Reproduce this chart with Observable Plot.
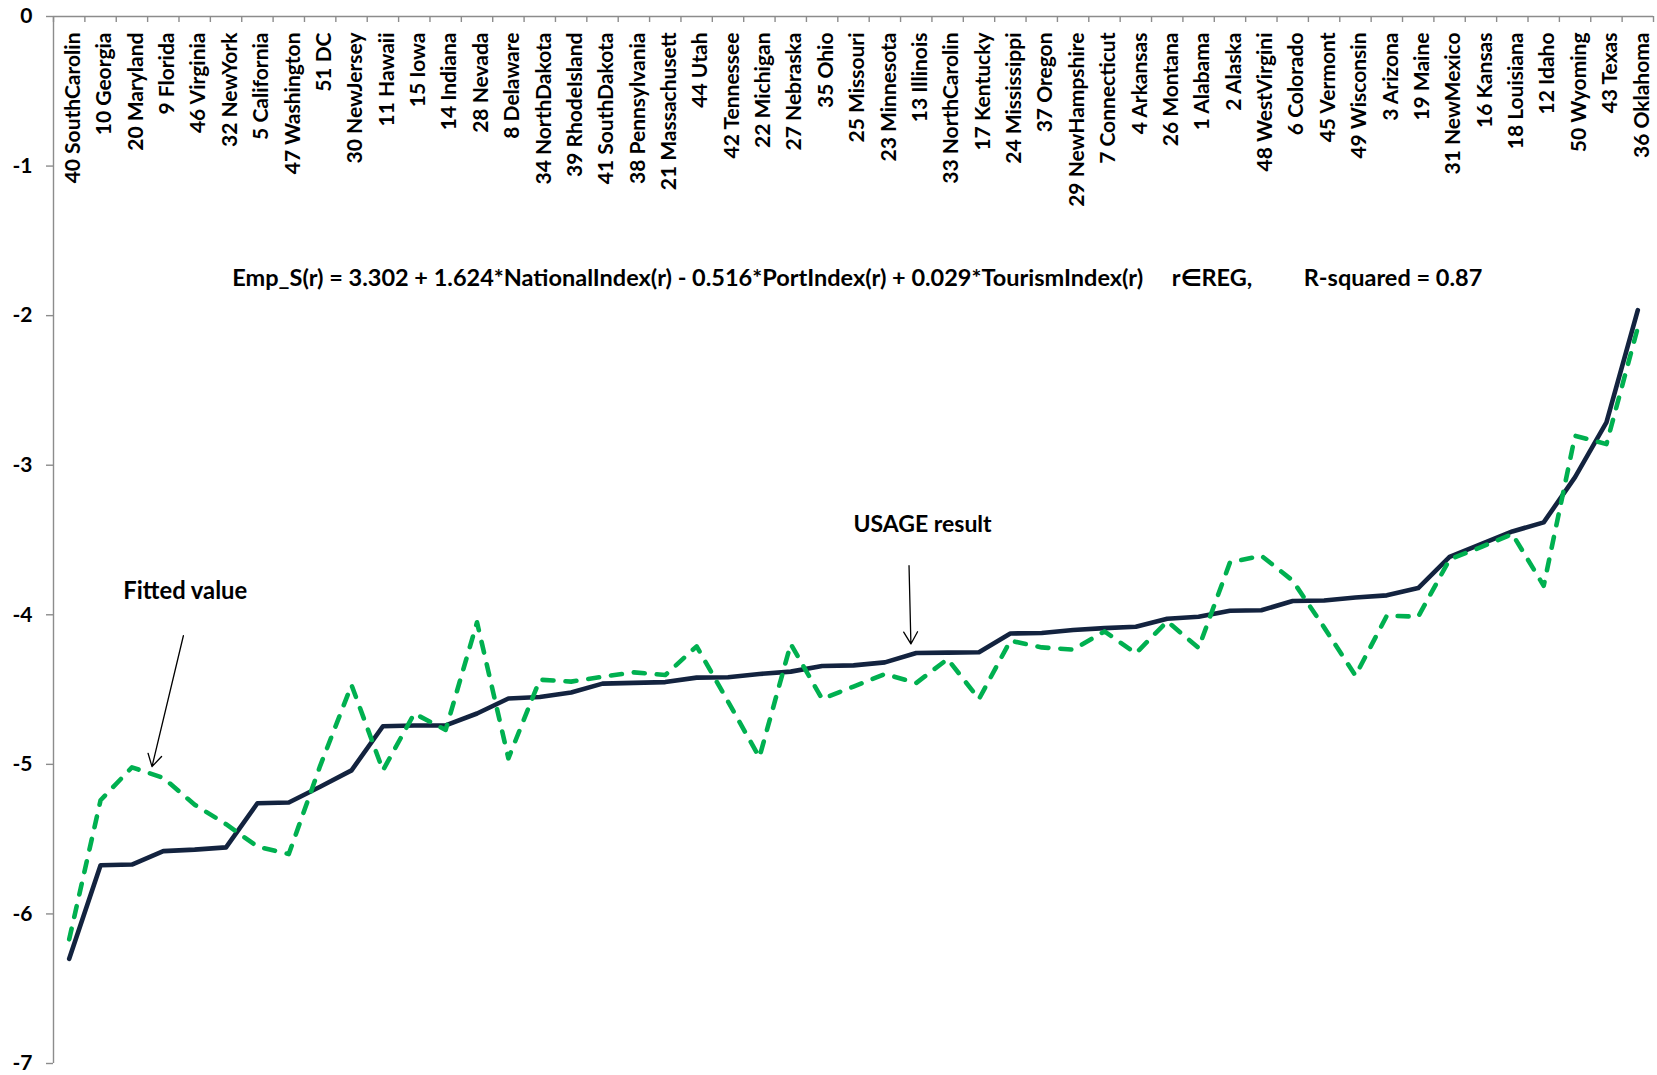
<!DOCTYPE html>
<html>
<head>
<meta charset="utf-8">
<script src="https://cdn.jsdelivr.net/npm/d3@7"></script>
<script src="https://cdn.jsdelivr.net/npm/@observablehq/plot@0.6"></script>
<style>
  html, body { margin: 0; padding: 0; background: #ffffff; }
  #chart svg text { white-space: pre; }
</style>
</head>
<body>
<div id="chart"></div>
<script>
// ---- data ----
const regions = [
  "40 SouthCarolin", "10 Georgia", "20 Maryland", "9 Florida", "46 Virginia",
  "32 NewYork", "5 California", "47 Washington", "51 DC", "30 NewJersey",
  "11 Hawaii", "15 Iowa", "14 Indiana", "28 Nevada", "8 Delaware",
  "34 NorthDakota", "39 RhodeIsland", "41 SouthDakota", "38 Pennsylvania", "21 Massachusett",
  "44 Utah", "42 Tennessee", "22 Michigan", "27 Nebraska", "35 Ohio",
  "25 Missouri", "23 Minnesota", "13 Illinois", "33 NorthCarolin", "17 Kentucky",
  "24 Mississippi", "37 Oregon", "29 NewHampshire", "7 Connecticut", "4 Arkansas",
  "26 Montana", "1 Alabama", "2 Alaska", "48 WestVirgini", "6 Colorado",
  "45 Vermont", "49 Wisconsin", "3 Arizona", "19 Maine", "31 NewMexico",
  "16 Kansas", "18 Louisiana", "12 Idaho", "50 Wyoming", "43 Texas",
  "36 Oklahoma"
];

// USAGE result (solid navy line)
const usageResult = [
  -6.30, -5.675, -5.67, -5.58, -5.57, -5.555, -5.26, -5.255, -5.15, -5.04,
  -4.745, -4.74, -4.74, -4.66, -4.56, -4.55, -4.52, -4.46, -4.455, -4.45,
  -4.42, -4.418, -4.396, -4.38, -4.342, -4.338, -4.318, -4.255, -4.253, -4.25,
  -4.125, -4.122, -4.102, -4.089, -4.08, -4.026, -4.013, -3.973, -3.97, -3.908,
  -3.904, -3.884, -3.87, -3.821, -3.613, -3.527, -3.443, -3.382, -3.08, -2.714,
  -1.963
];

// Fitted value (dashed green line)
const fittedValue = [
  -6.17, -5.24, -5.02, -5.09, -5.27, -5.40, -5.55, -5.60, -5.01, -4.47,
  -5.04, -4.66, -4.77, -4.05, -4.96, -4.434, -4.447, -4.414, -4.385, -4.403,
  -4.211, -4.58, -4.953, -4.195, -4.563, -4.48, -4.396, -4.456, -4.296, -4.563,
  -4.173, -4.218, -4.233, -4.111, -4.258, -4.044, -4.222, -3.65, -3.605, -3.772,
  -4.084, -4.407, -4.006, -4.013, -3.63, -3.548, -3.46, -3.806, -2.803, -2.859,
  -2.08
];

const yTicks = [0, -1, -2, -3, -4, -5, -6, -7];

const equation = "Emp_S(r) = 3.302 + 1.624*NationalIndex(r) - 0.516*PortIndex(r) + 0.029*TourismIndex(r)     r\u2208REG,         R-squared = 0.87";

// annotation texts, positioned in data space (x = region index, y = value)
const notes = [
  { label: equation, i: 25.12, v: -1.75, size: 23.5 },
  { label: "USAGE result", i: 27.2, v: -3.40, size: 23 },
  { label: "Fitted value", i: 3.70, v: -3.845, size: 23.8 }
];
const arrows = [
  { i1: 26.77, v1: -3.672, i2: 26.83, v2: -4.195 },
  { i1: 3.64, v1: -4.14, i2: 2.64, v2: -5.015 }
];

// ---- build ----
const rows = regions.map((r, i) => ({ i, region: r, usage: usageResult[i], fitted: fittedValue[i] }));
const boundaries = d3.range(regions.length + 1).map(k => k - 0.5);

const axisGray = "#8c8c8c";
const font = "Lato, 'Open Sans', 'DejaVu Sans', sans-serif";

const chart = Plot.plot({
  width: 1657,
  height: 1075,
  marginLeft: 53,
  marginRight: 4,
  marginTop: 16,
  marginBottom: 12,
  style: { fontFamily: font, fontWeight: "bold", fontSize: "21px", color: "#000", background: "#fff" },
  x: { type: "linear", domain: [-0.5, regions.length - 0.5], axis: null },
  y: { domain: [-7, 0] },
  marks: [
    // axis lines
    Plot.ruleY([0], { stroke: axisGray, strokeWidth: 1.4 }),
    Plot.ruleX([-0.5], { stroke: axisGray, strokeWidth: 1.4 }),
    // category tick marks hanging down from the top axis line
    Plot.ruleX(boundaries, { x: d => d, stroke: axisGray, strokeWidth: 1.4, insetBottom: 1041 }),
    // y axis
    Plot.axisY({
      ticks: yTicks, tickSize: 7, tickPadding: 14, tickFormat: d => String(d),
      stroke: axisGray, strokeWidth: 1.4, fill: "#000", fontSize: 21, fontWeight: "bold", label: null
    }),
    // rotated category labels along the top
    Plot.text(rows, {
      x: "i", y: () => 0, text: "region", rotate: -90, textAnchor: "end",
      dy: 16, dx: 4, fontSize: 21, fontWeight: "bold", fill: "#000"
    }),
    // series
    Plot.line(rows, {
      x: "i", y: "usage", stroke: "#13233f", strokeWidth: 4.6,
      strokeLinejoin: "round", strokeLinecap: "round"
    }),
    Plot.line(rows, {
      x: "i", y: "fitted", stroke: "#00b050", strokeWidth: 4.6,
      strokeDasharray: "11,12", strokeLinejoin: "round", strokeLinecap: "round"
    }),
    // annotations
    Plot.text(notes, { x: "i", y: "v", text: "label", fontSize: d => d.size, fontWeight: "bold", fill: "#000" }),
    Plot.arrow(arrows, {
      x1: "i1", y1: "v1", x2: "i2", y2: "v2",
      stroke: "#000", strokeWidth: 1.3, headLength: 16, headAngle: 60
    })
  ]
});

document.getElementById("chart").appendChild(chart);
</script>
</body>
</html>
